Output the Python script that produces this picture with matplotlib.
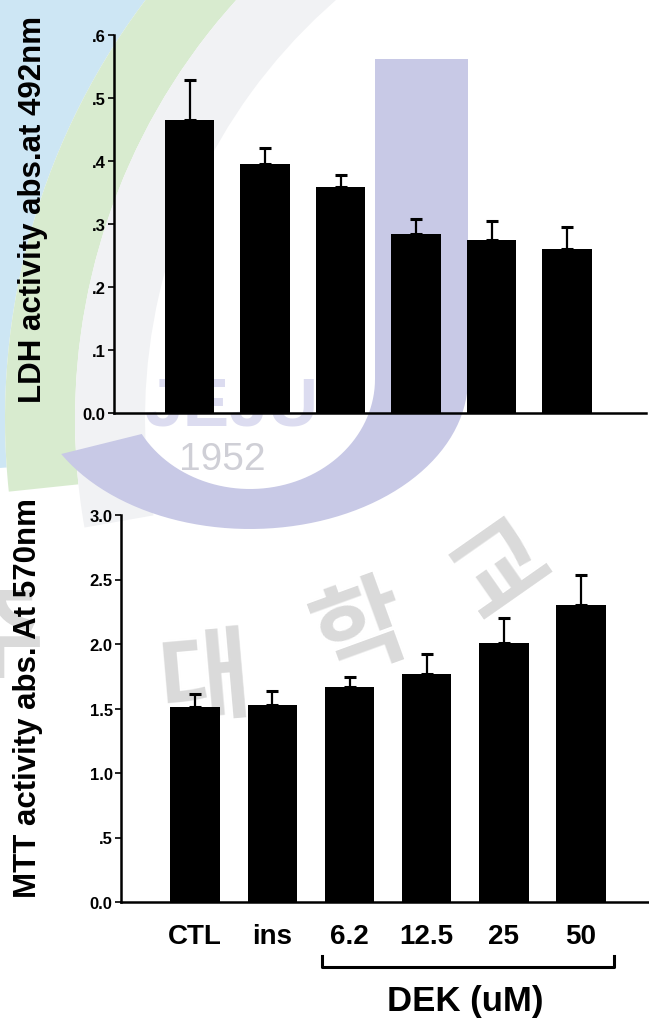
import matplotlib.pyplot as plt
import numpy as np
from matplotlib.patches import Wedge, Rectangle, Polygon


    # Données
groupes = ['CTL', 'ins', '6.2', '12.5', '25', '50']

ldh = [0.465, 0.396, 0.359, 0.284, 0.275, 0.260]
ldh_err = [0.064, 0.025, 0.019, 0.024, 0.029, 0.036]
ldh_ticks = [0.0, 0.1, 0.2, 0.3, 0.4, 0.5, 0.6]
ldh_ticklabels = ['0.0', '.1', '.2', '.3', '.4', '.5', '.6']

mtt = [1.51, 1.53, 1.67, 1.77, 2.01, 2.30]
mtt_err = [0.100, 0.105, 0.077, 0.156, 0.195, 0.233]
mtt_ticks = [0.0, 0.5, 1.0, 1.5, 2.0, 2.5, 3.0]
mtt_ticklabels = ['0.0', '.5', '1.0', '1.5', '2.0', '2.5', '3.0']

plt.rcParams['font.family'] = ['Liberation Sans', 'DejaVu Sans']
plt.rcParams['font.weight'] = 'bold'

W, H = 649, 1020
fig = plt.figure(figsize=(W/100, H/100), dpi=100)


    # Fond : logo en filigrane (coordonnées en pixels)
bg = fig.add_axes([0, 0, 1, 1], zorder=0)
bg.set_xlim(0, W)
bg.set_ylim(H, 0)
bg.axis('off')

bg.add_patch(Wedge((700, 420), 1000, 176, 262, width=305, color='#cde6f4', lw=0))
bg.add_patch(Wedge((700, 420), 695, 174, 262, width=70, color='#d8ebcf', lw=0))
bg.add_patch(Wedge((700, 420), 625, 170, 262, width=70, color='#f1f2f4', lw=0))

# Le "J" lavande
lav = '#c8c9e6'
t = np.radians(np.linspace(0, 150, 60))
ext = np.column_stack([250 + 218*np.cos(t), 380 + 150*np.sin(t)])
inte = np.column_stack([250 + 125*np.cos(t), 380 + 110*np.sin(t)])[::-1]
bg.add_patch(Polygon(np.vstack([ext, inte]), closed=True, color=lav, lw=0))
bg.add_patch(Rectangle((375, 60), 93, 321, color=lav, lw=0))
bg.text(232, 408, 'JEJU', color='#dcdcf0', fontsize=50, ha='center', va='center')
bg.text(222, 460, '1952', color='#cfcfd6', fontsize=28, fontweight='normal',
        ha='center', va='center')

# Caractères coréens
kr = ['Noto Sans CJK KR', 'DejaVu Sans']
for c, x, y, rot in [('주', -2, 640, 0), ('대', 205, 682, 5), ('학', 362, 632, 20), ('교', 502, 570, 35)]:
    bg.text(x, y, c, family=kr, fontsize=72, color='#dadada', rotation=rot,
            ha='center', va='center')


    # Tracé d'un histogramme avec barres d'erreur (haut seulement)
def trace_barres(ax, valeurs, erreurs, ticks, ticklabels, largeur):
    x = np.arange(len(valeurs))
    ax.bar(x, valeurs, width=largeur, color='black', zorder=3)
    ax.errorbar(x, valeurs, yerr=[np.zeros(len(erreurs)), erreurs], fmt='none',
                ecolor='black', elinewidth=1.6, capsize=4, capthick=2.2, zorder=2)
    ax.set_facecolor('none')
    for s in ['top', 'right']:
        ax.spines[s].set_visible(False)
    for s in ['left', 'bottom']:
        ax.spines[s].set_linewidth(1.8)
    ax.set_yticks(ticks, ticklabels)
    ax.set_ylim(ticks[0], ticks[-1])
    ax.tick_params(axis='y', length=4, width=1.2, pad=2, labelsize=12)
    return x


# LDH
ax1 = fig.add_axes([114/W, 1 - 414/H, 7.04*75.5/W, 378/H], zorder=1)
x = trace_barres(ax1, ldh, ldh_err, ldh_ticks, ldh_ticklabels, 0.66)
ax1.set_xlim(-1, 6.04)
ax1.set_xticks([])
fig.text(33/W, 1 - 209/H, 'LDH activity abs.at 492nm', rotation=90,
         ha='center', va='center', fontsize=22.5)

# MTT
ax2 = fig.add_axes([121/W, 1 - 903/H, 6.91*77.2/W, 387/H], zorder=1)
x = trace_barres(ax2, mtt, mtt_err, mtt_ticks, mtt_ticklabels, 0.64)
ax2.set_xlim(-0.96, 5.95)
ax2.set_xticks(x, groupes)
ax2.tick_params(axis='x', length=0, pad=15, labelsize=20)
fig.text(28/W, 1 - 698/H, 'MTT activity abs. At 570nm', rotation=90,
         ha='center', va='center', fontsize=22.5)

# Accolade DEK
ax2.plot([1.64, 1.64, 5.43, 5.43], [-0.42, -0.504, -0.504, -0.42], color='black',
         lw=2.2, clip_on=False)
ax2.text(3.5, -0.76, 'DEK (uM)', ha='center', va='center', fontsize=25)

plt.savefig('out.png', dpi=100)
